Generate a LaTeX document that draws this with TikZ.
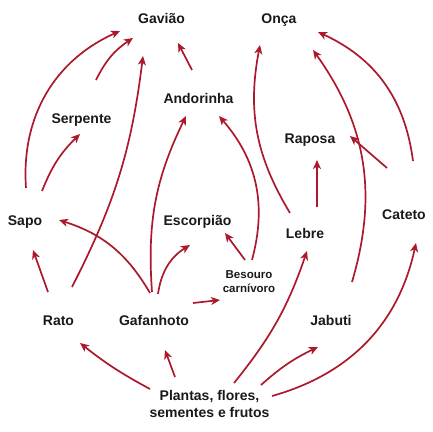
\documentclass[tikz,border=0pt]{standalone}
\usepackage{fontspec}
\setmainfont{Liberation Sans}
\usetikzlibrary{arrows.meta}
\definecolor{foodred}{RGB}{172, 24, 44}
\definecolor{labelink}{RGB}{25, 25, 25}
\tikzset{
  animal/.style={font=\fontsize{14}{17}\selectfont\bfseries, text=labelink, inner sep=0pt, text height=10pt, text depth=0pt},
  feeds/.style={draw=foodred, line width=1.7pt, -{Stealth[length=9pt, width=8pt, inset=2.5pt]}}
}
\begin{document}
\begin{tikzpicture}[x=1pt, y=-1pt]
  \useasboundingbox (0,0) rectangle (433,431);

  % Animals
  \node[animal] (gaviao) at (161.5, 18) {Gavião};
  \node[animal] (onca) at (279, 18) {Onça};
  \node[animal] (andorinha) at (198.5, 98) {Andorinha};
  \node[animal] (serpente) at (81.5, 118) {Serpente};
  \node[animal] (raposa) at (310, 138) {Raposa};
  \node[animal] (sapo) at (25, 220) {Sapo};
  \node[animal] (escorpiao) at (197.5, 220) {Escorpião};
  \node[animal] (cateto) at (404, 214) {Cateto};
  \node[animal] (lebre) at (305, 233) {Lebre};
  \node[animal, font=\fontsize{11.5}{14}\selectfont\bfseries, align=center, text height=, text depth=] (besouro) at (249, 282) {Besouro\\carnívoro};
  \node[animal] (rato) at (58.5, 320) {Rato};
  \node[animal] (gafanhoto) at (154, 320) {Gafanhoto};
  \node[animal] (jabuti) at (331, 320) {Jabuti};

  % Producers
  \node[animal, align=center, text height=, text depth=] (plantas) at (209.5, 404) {Plantas, flores,\\sementes e frutos};

  % To the Gavião
  \draw[feeds] ([shift={(1,-32)}]sapo.center) to[bend left=35] ([shift={(-41.5,13)}]gaviao.center);
  \draw[feeds] ([shift={(14.5,-38)}]serpente.center) to[bend left=15] ([shift={(-28.5,20)}]gaviao.center);
  \draw[feeds] ([shift={(13.5,-33)}]rato.center) to[bend right=10] ([shift={(-18.5,38)}]gaviao.center);
  \draw[feeds] ([shift={(-6.5,-28)}]andorinha.center) -- ([shift={(16.5,25)}]gaviao.center);

  % Middle of the web
  \draw[feeds] ([shift={(17,-29)}]sapo.center) to[bend left=12] ([shift={(-1.5,16)}]serpente.center);
  \draw[feeds] ([shift={(-10.5,-28)}]rato.center) -- ([shift={(8,30)}]sapo.center);
  \draw[feeds] ([shift={(-2,-28)}]gafanhoto.center) to[bend left=15] ([shift={(-12.5,18)}]andorinha.center);
  \draw[feeds] ([shift={(-4,-27)}]gafanhoto.center) to[bend right=21] ([shift={(34,0)}]sapo.center);
  \draw[feeds] ([shift={(4,-26)}]gafanhoto.center) to[bend left=25] ([shift={(-7.5,25)}]escorpiao.center);
  \draw[feeds] ([shift={(39,-17)}]gafanhoto.center) -- ([shift={(-29,18)}]besouro.center);
  \draw[feeds] ([shift={(-4,-22)}]besouro.center) -- ([shift={(27.5,13)}]escorpiao.center);
  \draw[feeds] ([shift={(3,-22)}]besouro.center) to[bend right=28] ([shift={(20.5,18)}]andorinha.center);

  % To the Onça and the Raposa
  \draw[feeds] ([shift={(-15,-20)}]lebre.center) to[bend left=21] ([shift={(-19,27)}]onca.center);
  \draw[feeds] ([shift={(12,-26)}]lebre.center) -- ([shift={(7,22)}]raposa.center);
  \draw[feeds] ([shift={(-17,-46)}]cateto.center) -- ([shift={(40,-2)}]raposa.center);
  \draw[feeds] ([shift={(21,-38)}]jabuti.center) to[bend right=26] ([shift={(34,32)}]onca.center);
  \draw[feeds] ([shift={(9,-53)}]cateto.center) to[bend right=29] ([shift={(39,14)}]onca.center);

  % From the plants
  \draw[feeds] ([shift={(-59.5,-15)}]plantas.center) to[bend left=5] ([shift={(21.5,23)}]rato.center);
  \draw[feeds] ([shift={(-34.5,-27)}]plantas.center) -- ([shift={(11,30)}]gafanhoto.center);
  \draw[feeds] ([shift={(24.5,-21)}]plantas.center) to[bend right=10] ([shift={(2,18)}]lebre.center);
  \draw[feeds] ([shift={(51.5,-19)}]plantas.center) to[bend left=8] ([shift={(-13,27)}]jabuti.center);
  \draw[feeds] ([shift={(62.5,-8)}]plantas.center) to[bend right=31] ([shift={(12,29)}]cateto.center);
\end{tikzpicture}
\end{document}
